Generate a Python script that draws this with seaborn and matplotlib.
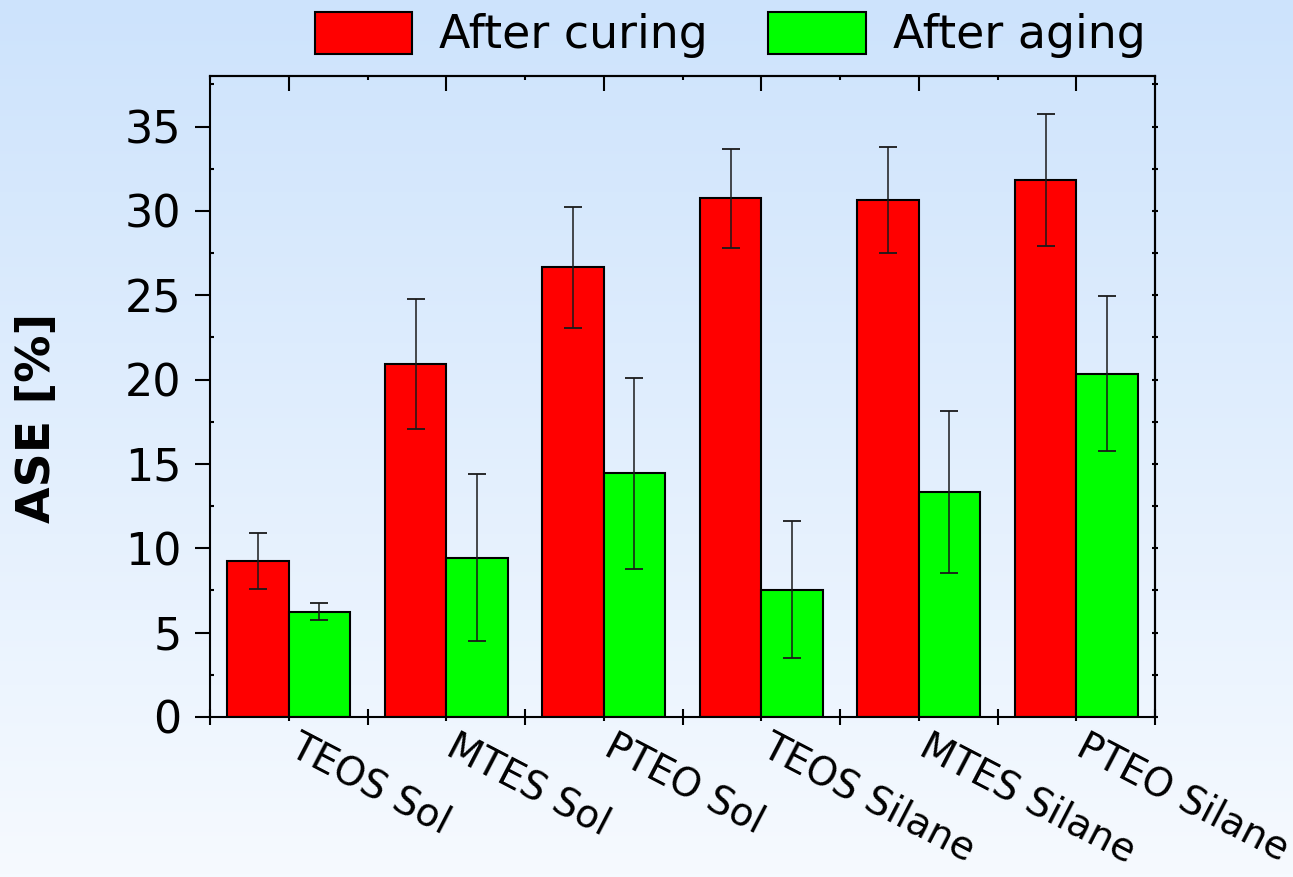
import numpy as np
import pandas as pd
import matplotlib
matplotlib.use("Agg")
import matplotlib.pyplot as plt
import matplotlib.transforms as mtransforms
import seaborn as sns
from matplotlib.ticker import MultipleLocator, FixedLocator, NullFormatter

# Anti-swelling efficiency of treated wood samples
samples = ["TEOS Sol", "MTES Sol", "PTEO Sol", "TEOS Silane", "MTES Silane", "PTEO Silane"]
conditions = ["After curing", "After aging"]
ase_curing = [9.25, 20.95, 26.65, 30.75, 30.65, 31.85]
err_curing = [1.65, 3.85, 3.6, 2.95, 3.15, 3.9]
ase_aging = [6.25, 9.45, 14.45, 7.55, 13.35, 20.35]
err_aging = [0.5, 4.95, 5.65, 4.05, 4.8, 4.6]
colors = ["#FF0000", "#00FF00"]

sns.set_style("ticks", {"axes.edgecolor": "black", "xtick.color": "black",
                        "ytick.color": "black", "text.color": "black",
                        "axes.labelcolor": "black"})
plt.rcParams["font.family"] = ["DejaVu Sans"]

df = pd.DataFrame({
    "sample": samples * 2,
    "condition": [conditions[0]] * len(samples) + [conditions[1]] * len(samples),
    "ASE": ase_curing + ase_aging,
})

fig = plt.figure(figsize=(12.93, 8.77), dpi=100)

# soft blue-to-white backdrop
bg = fig.add_axes([0, 0, 1, 1], zorder=-10)
t = np.linspace(0, 1, 256)[:, None, None]
top_c = np.array([205, 227, 252]) / 255
bot_c = np.array([246, 250, 255]) / 255
img = top_c * (1 - t) + bot_c * t
bg.imshow(np.repeat(img, 2, axis=1), aspect="auto", extent=[0, 1, 0, 1])
bg.set_axis_off()

ax = fig.add_axes([210 / 1293, 1 - 717 / 877, 945 / 1293, 641 / 877])
ax.patch.set_alpha(0)

sns.barplot(data=df, x="sample", y="ASE", hue="condition", order=samples,
            hue_order=conditions, palette=colors, width=0.78, errorbar=None,
            edgecolor="black", linewidth=1.5, saturation=1, ax=ax)

for cont, errs in zip(ax.containers, [err_curing, err_aging]):
    xs = [p.get_x() + p.get_width() / 2 for p in cont]
    ys = [p.get_height() for p in cont]
    ax.errorbar(xs, ys, yerr=errs, fmt="none", ecolor="#1a1a1a",
                elinewidth=1.1, capsize=6.5, capthick=1.3, zorder=3)

handles, labels = ax.get_legend_handles_labels()
ax.get_legend().remove()
fig.legend(handles, labels, loc="center", bbox_to_anchor=(730 / 1293, 1 - 35 / 877),
           ncol=2, frameon=False, fontsize=33, handlelength=2.12, handleheight=1.03,
           handletextpad=0.59, columnspacing=1.33, borderpad=0)

ax.set_xlim(-0.5, len(samples) - 0.5)
ax.set_ylim(0, 38)
ax.set_xlabel("")
ax.set_ylabel("ASE [%]", fontsize=34, fontweight="bold")
ax.yaxis.set_label_coords(-0.159, 0.467)

for sp in ax.spines.values():
    sp.set_linewidth(1.5)
    sp.set_color("black")

ax.yaxis.set_major_locator(MultipleLocator(5))
ax.yaxis.set_minor_locator(MultipleLocator(2.5))
ax.tick_params(axis="y", which="major", direction="out", length=11, width=1.5,
               labelsize=32, pad=9.5, left=True, right=False)
ax.tick_params(axis="y", which="minor", direction="in", length=3, width=1.5)

ax.set_xticks(np.arange(len(samples)))
ax.xaxis.set_minor_locator(FixedLocator(np.arange(-0.5, len(samples), 1)))
ax.tick_params(axis="x", which="major", direction="out", length=3, width=1.5,
               labelsize=28, pad=4.5, top=False)
ax.tick_params(axis="x", which="minor", direction="inout", length=12, width=1.5)
ax.set_xticklabels(samples, rotation=-27.5, ha="left", va="top",
                   rotation_mode="anchor")
shift = mtransforms.ScaledTranslation(0.12, 0, fig.dpi_scale_trans)
for lab in ax.get_xticklabels():
    lab.set_transform(lab.get_transform() + shift)

top = ax.secondary_xaxis("top")
top.xaxis.set_major_locator(FixedLocator(np.arange(len(samples))))
top.xaxis.set_minor_locator(FixedLocator(np.arange(-0.5, len(samples), 1)))
top.xaxis.set_major_formatter(NullFormatter())
top.tick_params(which="major", direction="in", length=11, width=1.5)
top.tick_params(which="minor", direction="in", length=3, width=1.5)
top.spines["top"].set_linewidth(1.5)

right = ax.secondary_yaxis("right")
right.yaxis.set_major_locator(MultipleLocator(2.5))
right.yaxis.set_major_formatter(NullFormatter())
right.tick_params(direction="inout", length=5, width=1.5)
right.spines["right"].set_linewidth(1.5)

fig.savefig("out.png", dpi=100)
